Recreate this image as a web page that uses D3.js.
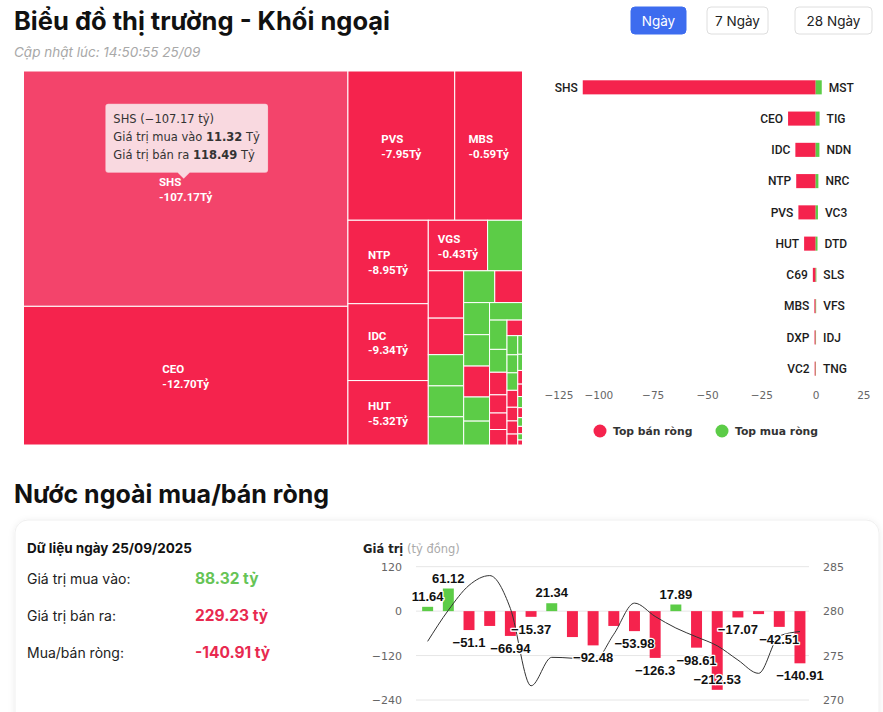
<!DOCTYPE html>
<html lang="vi">
<head>
<meta charset="utf-8">
<title>Khối ngoại</title>
<script src="https://cdn.jsdelivr.net/npm/d3@7/dist/d3.min.js"></script>
<style>
  body { margin: 0; background: #fff; }
  svg { display: block; font-family: Inter, "Noto Sans", sans-serif; }
  .hc { font-family: "DejaVu Sans", sans-serif; }
</style>
</head>
<body>
<svg id="chart" width="883" height="712"></svg>
<script>
// treemap: size = giá trị giao dịch (mua + bán), net = mua - bán, tỷ đồng
const tmNames = ['SHS','CEO','PVS','MBS','NTP','IDC','HUT','VGS','MST','C69','DXP','TIG','NDN','NRC','VC3','VC2',
  'DTD','SLS','PVI','VFS','IDJ','TNG','BVS','NVB','VCS','PLC','TVD','L14','DTK','PVC','HLD','VTZ','AMV','PSD',
  'TAR','LAS','PVB','NBC','SCG','BCC','MBG','VIT','KSV','THD','DHT','PGS'];
const tmSize = [129.81, 76.5, 27.1, 17.2, 11.4, 10.5, 8.8, 5.1, 3.0, 2.85, 2.2, 1.88, 1.86, 1.7, 1.68, 1.5,
  1.41, 1.38, 1.36, 1.06, 1.05, 0.98, 0.87, 0.68, 0.67, 0.54, 0.49, 0.46, 0.41, 0.35, 0.33, 0.32, 0.31, 0.25,
  0.24, 0.2, 0.15, 0.13, 0.11, 0.1, 0.09, 0.08, 0.07, 0.06, 0.05, 0.04];
const tmNet = [-107.17, -12.70, -7.95, -0.59, -8.95, -9.34, -5.32, -0.43, 2.8, -1.3, -0.52, 1.8, 1.72, 1.25, 1.05, -0.47,
  0.85, 0.32, -0.38, 0.22, 0.17, 0.14, 0.11, 0.09, -0.35, -0.3, -0.26, -0.22, -0.2, 0.08, 0.07, 0.06, -0.15, -0.12,
  -0.1, -0.09, 0.05, 0.04, -0.06, -0.05, 0.03, -0.04, 0.02, -0.03, 0.01, -0.02];

// tooltip đang mở trên SHS
const tipName = 'SHS', tipBuy = 11.32, tipSell = 118.49;

// tóm tắt ngày
const summaryDate = '25/09/2025';
const totalBuy = 88.32, totalSell = 229.23, totalNet = -140.91;

// lịch sử mua/bán ròng (tỷ đồng) và chỉ số (trục phải)
const netFlow = [11.64, 61.12, -51.1, -40, -66.94, -15.37, 21.34, -70, -92.48, -40, -53.98, -126.3, 17.89,
  -98.61, -212.53, -17.07, -8, -42.51, -140.91];
const netLabelShown = [1, 1, 1, 0, 1, 1, 1, 0, 1, 0, 1, 1, 1, 1, 1, 1, 0, 1, 1];
const indexLine = [276.6, 280.1, 282.9, 284.0, 280.3, 271.6, 274.8, 274.7, 274.3, 277.4, 280.9, 279.4, 278.1,
  277.1, 276.1, 274.5, 273.0, 277.2, 277.7];

const barTicks = [-125, -100, -75, -50, -25, 0, 25];
const flowTicks = [-240, -120, 0, 120];
const indexTicks = [270, 275, 280, 285];
const periods = ['Ngày', '7 Ngày', '28 Ngày'];

const RED = '#f5234d', RED_HOVER = '#f3446b', GREEN = '#5ccc47';

const svg = d3.select('#chart');

const defs = svg.append('defs');
const shadow = defs.append('filter').attr('id', 'card-shadow').attr('x', '-5%').attr('y', '-10%')
  .attr('width', '110%').attr('height', '130%');
shadow.append('feDropShadow').attr('dx', 0).attr('dy', 1).attr('stdDeviation', 3)
  .attr('flood-color', '#000').attr('flood-opacity', 0.08);

// ---------- header ----------
svg.append('text').attr('x', 14).attr('y', 30)
  .attr('font-size', 25.5).attr('font-weight', 700).attr('fill', '#111')
  .text('Biểu đồ thị trường - Khối ngoại');
svg.append('text').attr('x', 14).attr('y', 57)
  .attr('font-size', 13.5).attr('font-style', 'italic').attr('fill', '#a8a8a8')
  .text('Cập nhật lúc: 14:50:55 25/09');

const btnX = [631, 707, 795], btnW = [55, 61, 77];
periods.forEach((p, i) => {
  const g = svg.append('g').attr('transform', `translate(${btnX[i]},7)`);
  g.append('rect').attr('width', btnW[i]).attr('height', 27).attr('rx', 4)
    .attr('fill', i === 0 ? '#3d6cef' : '#fff')
    .attr('stroke', i === 0 ? '#3d6cef' : '#dedede');
  g.append('text').attr('x', btnW[i] / 2).attr('y', 18.5).attr('text-anchor', 'middle')
    .attr('font-size', 13.5).attr('fill', i === 0 ? '#fff' : '#222').text(p);
});

// ---------- treemap ----------
// hàng xen kẽ dọc/ngang, giữ tỉ lệ ô gần vuông
function lowAspectTile(parent, x0, y0, x1, y1) {
  const kids = parent.children;
  const W = x1 - x0, H = y1 - y0;
  const ratio = (a, b) => Math.max(a / b, b / a);
  const g = {width: W, height: H, dir: 0, total: 0, nW: 0, lW: 0, nH: 0, lH: 0, els: [], lP: {}};
  const plot = {x: x0, y: y0};
  let next = 0;

  function add(el) {
    g.lP.total = g.els[g.els.length - 1];
    g.total += el;
    if (g.dir === 0) {
      g.lW = g.nW;
      g.lP.lH = g.lP.total / g.lW;
      g.lP.lR = ratio(g.lW, g.lP.lH);
      g.nW = g.total / g.height;
      g.lP.nH = g.lP.total / g.nW;
      g.lP.nR = ratio(g.nW, g.lP.nH);
    } else {
      g.lH = g.nH;
      g.lP.lW = g.lP.total / g.lH;
      g.lP.lR = ratio(g.lP.lW, g.lH);
      g.nH = g.total / g.width;
      g.lP.nW = g.lP.total / g.nH;
      g.lP.nR = ratio(g.lP.nW, g.nH);
    }
    g.els.push(el);
  }

  function place(last) {
    const gW = last ? g.nW : g.lW, gH = last ? g.nH : g.lH;
    const keep = g.els[g.els.length - 1];
    const n = last ? g.els.length : g.els.length - 1;
    for (let i = 0; i < n; i++) {
      const p = g.els[i], c = kids[next++];
      const w = g.dir === 0 ? gW : p / gH;
      const h = g.dir === 0 ? p / gW : gH;
      c.x0 = plot.x; c.y0 = plot.y; c.x1 = plot.x + w; c.y1 = plot.y + h;
      if (g.dir === 0) plot.y += h; else plot.x += w;
    }
    g.nW = 0; g.lW = 0; g.els = []; g.total = 0;
    if (g.dir === 0) g.width -= gW; else g.height -= gH;
    plot.y = y0 + (H - g.height);
    plot.x = x0 + (W - g.width);
    g.dir = 1 - g.dir;
    if (!last) add(keep);
  }

  kids.forEach((c, i) => {
    add(W * H * c.value / parent.value);
    if (g.lP.nR > g.lP.lR) place(false);
    if (i === kids.length - 1) place(true);
  });
}

const tmData = tmNames.map((n, i) => ({name: n, size: tmSize[i], net: tmNet[i]}));
const root = d3.hierarchy({children: tmData}).sum(d => d.size || 0).sort((a, b) => b.value - a.value);
d3.treemap().size([499, 374]).tile(lowAspectTile)(root);

const tm = svg.append('g').attr('transform', 'translate(23.5,71)');
const cell = tm.selectAll('g.cell').data(root.leaves()).join('g').attr('class', 'cell');
cell.append('rect')
  .attr('x', d => d.x0).attr('y', d => d.y0)
  .attr('width', d => d.x1 - d.x0).attr('height', d => d.y1 - d.y0)
  .attr('fill', d => d.data.name === tipName ? RED_HOVER : (d.data.net < 0 ? RED : GREEN))
  .attr('stroke', '#fff').attr('stroke-width', 1);

const fmtNet = d3.format('.2f');
const plain = v => `${v < 0 ? '-' : ''}${fmtNet(Math.abs(v))}`;
cell.filter(d => d.x1 - d.x0 >= 45 && d.y1 - d.y0 >= 40).each(function (d) {
  const cx = (d.x0 + d.x1) / 2, cy = (d.y0 + d.y1) / 2;
  const t = d3.select(this).append('text')
    .attr('font-family', 'Roboto, sans-serif').attr('font-size', 11.5).attr('font-weight', 700)
    .attr('fill', '#fff');
  t.append('tspan').attr('y', cy - 2.5).text(d.data.name);
  t.append('tspan').attr('y', cy + 12).text(`${plain(d.data.net)}Tỷ`);
  const w = d3.max(t.selectAll('tspan').nodes(), n => n.getComputedTextLength());
  t.selectAll('tspan').attr('x', cx - w / 2);
});

// tooltip SHS
const tipNode = root.leaves().find(d => d.data.name === tipName);
const tipX = 23.5 + (tipNode.x0 + tipNode.x1) / 2 - 2, tipY = 71 + (tipNode.y0 + tipNode.y1) / 2 - 10;
const tip = svg.append('g').attr('class', 'hc');
const tipBg = tip.append('path');
const tipText = tip.append('text').attr('font-size', 11.5).attr('fill', '#333');
const tipLines = [
  [[`${tipName} (−${fmtNet(tipSell - tipBuy)} tỷ)`, 400]],
  [['Giá trị mua vào ', 400], [fmtNet(tipBuy), 700], [' Tỷ', 400]],
  [['Giá trị bán ra ', 400], [fmtNet(tipSell), 700], [' Tỷ', 400]]
];
tipLines.forEach((line, li) => {
  line.forEach(([s, w], si) => {
    const ts = tipText.append('tspan').attr('font-weight', w).text(s);
    if (si === 0) ts.attr('x', 0).attr('y', li * 18);
  });
});
const tb = tipText.node().getBBox();
const boxW = tb.width + 16, boxH = 69;
const bx = tipX - boxW / 2 + 3, by = tipY - 6 - boxH;
tipText.attr('transform', `translate(${bx + 8},${by + 19})`);
tipBg.attr('d', `M${bx + 3},${by} h${boxW - 6} q3,0 3,3 v${boxH - 6} q0,3 -3,3 H${tipX + 6} l-6,6 l-6,-6 H${bx + 3} q-3,0 -3,-3 v${-(boxH - 6)} q0,-3 3,-3 z`)
  .attr('fill', 'rgba(250,246,247,0.84)').attr('stroke', 'rgba(243,68,107,0.4)').attr('stroke-width', 0.5);

// ---------- top bán / mua ròng ----------
const byNet = tmData.slice().sort((a, b) => a.net - b.net);
const sellers = byNet.slice(0, 10);
const buyers = byNet.slice().reverse().slice(0, 10);

const xBar = d3.scaleLinear().domain([-125, 25]).range([544, 870]);
const yRow = d3.scaleBand().domain(d3.range(10)).range([71.7, 384.3]).paddingInner(0.55).paddingOuter(0.275);

const bars = svg.append('g');
bars.selectAll('rect.sell').data(sellers).join('rect').attr('class', 'sell')
  .attr('x', d => xBar(d.net)).attr('y', (d, i) => yRow(i))
  .attr('width', d => xBar(0) - xBar(d.net)).attr('height', yRow.bandwidth()).attr('fill', RED);
bars.selectAll('rect.buy').data(buyers).join('rect').attr('class', 'buy')
  .attr('x', xBar(0)).attr('y', (d, i) => yRow(i))
  .attr('width', d => xBar(d.net) - xBar(0)).attr('height', yRow.bandwidth()).attr('fill', GREEN);
bars.selectAll('text.sell').data(sellers).join('text').attr('class', 'sell')
  .attr('x', d => xBar(d.net) - 5).attr('y', (d, i) => yRow(i) + yRow.bandwidth() / 2 + 4.3)
  .attr('text-anchor', 'end').attr('font-family', 'Roboto, sans-serif').attr('font-size', 12)
  .attr('font-weight', 500).attr('fill', '#1c1c1c').text(d => d.name);
bars.selectAll('text.buy').data(buyers).join('text').attr('class', 'buy')
  .attr('x', d => xBar(d.net) + 7).attr('y', (d, i) => yRow(i) + yRow.bandwidth() / 2 + 4.3)
  .attr('font-family', 'Roboto, sans-serif').attr('font-size', 12)
  .attr('font-weight', 500).attr('fill', '#1c1c1c').text(d => d.name);

const xAxis = svg.append('g').attr('class', 'hc').attr('transform', 'translate(0,392)')
  .call(d3.axisBottom(xBar).tickValues(barTicks).tickSize(0).tickPadding(0));
xAxis.select('.domain').remove();
xAxis.selectAll('text').attr('font-family', '"DejaVu Sans", sans-serif').attr('font-size', 10.5)
  .attr('fill', '#666').attr('dy', '0.71em');
xAxis.selectAll('.tick').filter(d => d === barTicks[0]).select('text').attr('text-anchor', 'start');
xAxis.selectAll('.tick').filter(d => d === barTicks[barTicks.length - 1]).select('text').attr('text-anchor', 'end');

const legendItems = [['Top bán ròng', RED, 600], ['Top mua ròng', GREEN, 722]];
const legend = svg.append('g').attr('class', 'hc');
legendItems.forEach(([label, color, lx]) => {
  legend.append('circle').attr('cx', lx).attr('cy', 431).attr('r', 6.5).attr('fill', color);
  legend.append('text').attr('x', lx + 13).attr('y', 435).attr('font-size', 10.8).attr('font-weight', 700)
    .attr('fill', '#333').text(label);
});

// ---------- Nước ngoài mua/bán ròng ----------
svg.append('text').attr('x', 14).attr('y', 503)
  .attr('font-size', 25).attr('font-weight', 700).attr('fill', '#111')
  .text('Nước ngoài mua/bán ròng');

svg.append('rect').attr('x', 15).attr('y', 520).attr('width', 864).attr('height', 230).attr('rx', 13)
  .attr('fill', '#fff').attr('stroke', '#f0f0f0').attr('filter', 'url(#card-shadow)');

svg.append('text').attr('x', 27).attr('y', 553).attr('font-size', 13.5).attr('font-weight', 700)
  .attr('fill', '#111').text(`Dữ liệu ngày ${summaryDate}`);
const summaryRows = [
  ['Giá trị mua vào:', `${plain(totalBuy)} tỷ`, '#66c456', 584],
  ['Giá trị bán ra:', `${plain(totalSell)} tỷ`, '#e8294f', 621],
  ['Mua/bán ròng:', `${plain(totalNet)} tỷ`, '#e8294f', 658]
];
summaryRows.forEach(([label, val, color, y]) => {
  svg.append('text').attr('x', 27).attr('y', y).attr('font-size', 14).attr('fill', '#222').text(label);
  svg.append('text').attr('x', 195).attr('y', y).attr('font-size', 15.5).attr('font-weight', 700)
    .attr('fill', color).text(val);
});

const xFlow = d3.scaleBand().domain(d3.range(netFlow.length)).range([417.3, 810.3])
  .paddingInner(0.47).paddingOuter(0.235);
const yFlow = d3.scaleLinear().domain([-240, 120]).range([700, 566.7]);
const yIdx = d3.scaleLinear().domain([270, 285]).range([700, 566.7]);

const flow = svg.append('g').attr('class', 'hc');
flow.append('text').attr('x', 363).attr('y', 553).attr('font-size', 11.5)
  .call(t => t.append('tspan').attr('font-weight', 700).attr('fill', '#222').text('Giá trị'))
  .call(t => t.append('tspan').attr('fill', '#aaa').text(' (tỷ đồng)'));

flow.selectAll('line.grid').data(flowTicks).join('line').attr('class', 'grid')
  .attr('x1', 416).attr('x2', 809).attr('y1', d => yFlow(d)).attr('y2', d => yFlow(d))
  .attr('stroke', '#e6e6e6').attr('stroke-width', 1);

const yLeft = flow.append('g').attr('transform', 'translate(402,0)')
  .call(d3.axisLeft(yFlow).tickValues(flowTicks).tickSize(0).tickPadding(0));
const yRight = flow.append('g').attr('transform', 'translate(823,0)')
  .call(d3.axisRight(yIdx).tickValues(indexTicks).tickSize(0).tickPadding(0));
[yLeft, yRight].forEach(a => {
  a.select('.domain').remove();
  a.selectAll('text').attr('font-family', '"DejaVu Sans", sans-serif').attr('font-size', 11).attr('fill', '#666');
});

flow.selectAll('rect.flow').data(netFlow).join('rect').attr('class', 'flow')
  .attr('x', (d, i) => xFlow(i)).attr('width', xFlow.bandwidth())
  .attr('y', d => yFlow(Math.max(0, d))).attr('height', d => Math.abs(yFlow(d) - yFlow(0)))
  .attr('fill', d => d >= 0 ? GREEN : RED);

const line = d3.line().x((d, i) => xFlow(i) + xFlow.bandwidth() / 2).y(d => yIdx(d)).curve(d3.curveMonotoneX);
flow.append('path').datum(indexLine).attr('d', line).attr('fill', 'none').attr('stroke', '#333')
  .attr('stroke-width', 1);

// nhãn âm nằm dưới cột; nếu tràn khỏi vùng vẽ thì đẩy vào trong
const labelBottom = yFlow.range()[0] - 16;
flow.selectAll('text.val').data(netFlow.map((v, i) => ({v, i})).filter(d => netLabelShown[d.i]))
  .join('text').attr('class', 'val')
  .attr('x', d => xFlow(d.i) + xFlow.bandwidth() / 2)
  .attr('y', d => d.v >= 0 ? yFlow(d.v) - 6 : Math.min(yFlow(d.v) + 17, labelBottom))
  .attr('text-anchor', 'middle').attr('font-family', '"Liberation Sans", Arial, sans-serif')
  .attr('font-size', 13).attr('font-weight', 700).attr('fill', '#111')
  .attr('stroke', '#fff').attr('stroke-width', 2.5).attr('paint-order', 'stroke').attr('stroke-linejoin', 'round')
  .text(d => d3.format('')(d.v));
</script>
</body>
</html>
